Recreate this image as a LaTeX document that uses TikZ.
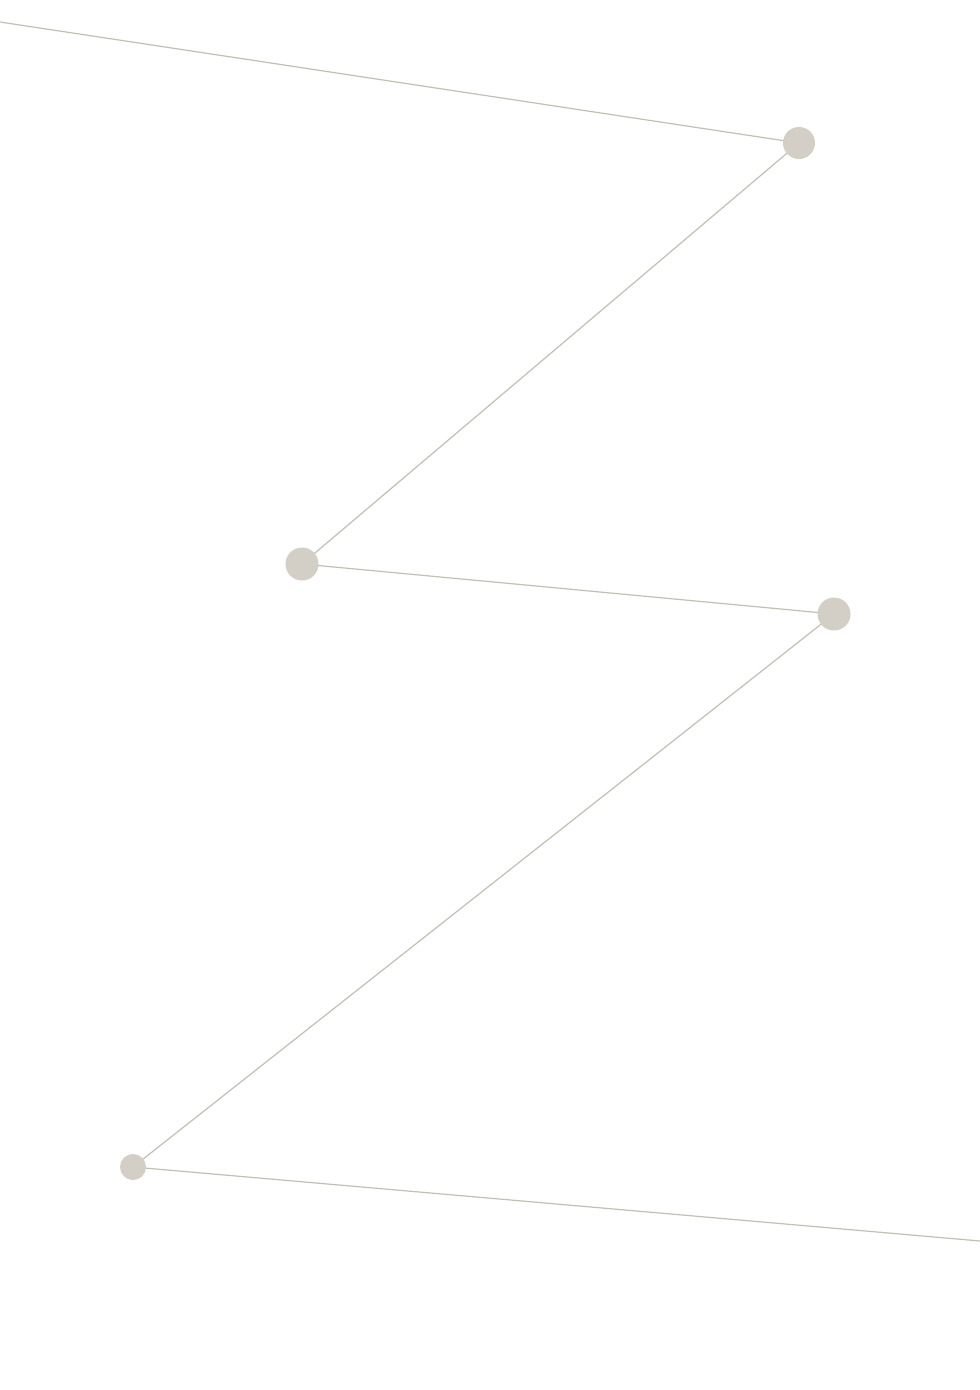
\documentclass[tikz,border=0pt]{standalone}
\usetikzlibrary{backgrounds}
\definecolor{dotfill}{HTML}{D3CFC7}
\definecolor{linecol}{HTML}{C2BFB5}
\tikzset{
  dot/.style={circle, fill=dotfill, draw=none, inner sep=0pt, minimum size=#1},
  link/.style={draw=linecol, line width=1.2pt}
}
\begin{document}
\begin{tikzpicture}[x=1pt,y=-1pt]
\useasboundingbox (0,0) rectangle (980,1390);
\coordinate (s) at (0,22);
\coordinate (e) at (980,1241);
\node[dot=32pt] (a) at (799,143) {};
\node[dot=33pt] (b) at (302,564) {};
\node[dot=33pt] (c) at (834,614) {};
\node[dot=26pt] (d) at (133,1167) {};
\begin{pgfonlayer}{background}
\fill[white] (0,0) rectangle (980,1390);
\draw[link] (s) -- (a.center) -- (b.center) -- (c.center) -- (d.center) -- (e);
\end{pgfonlayer}
\end{tikzpicture}
\end{document}
